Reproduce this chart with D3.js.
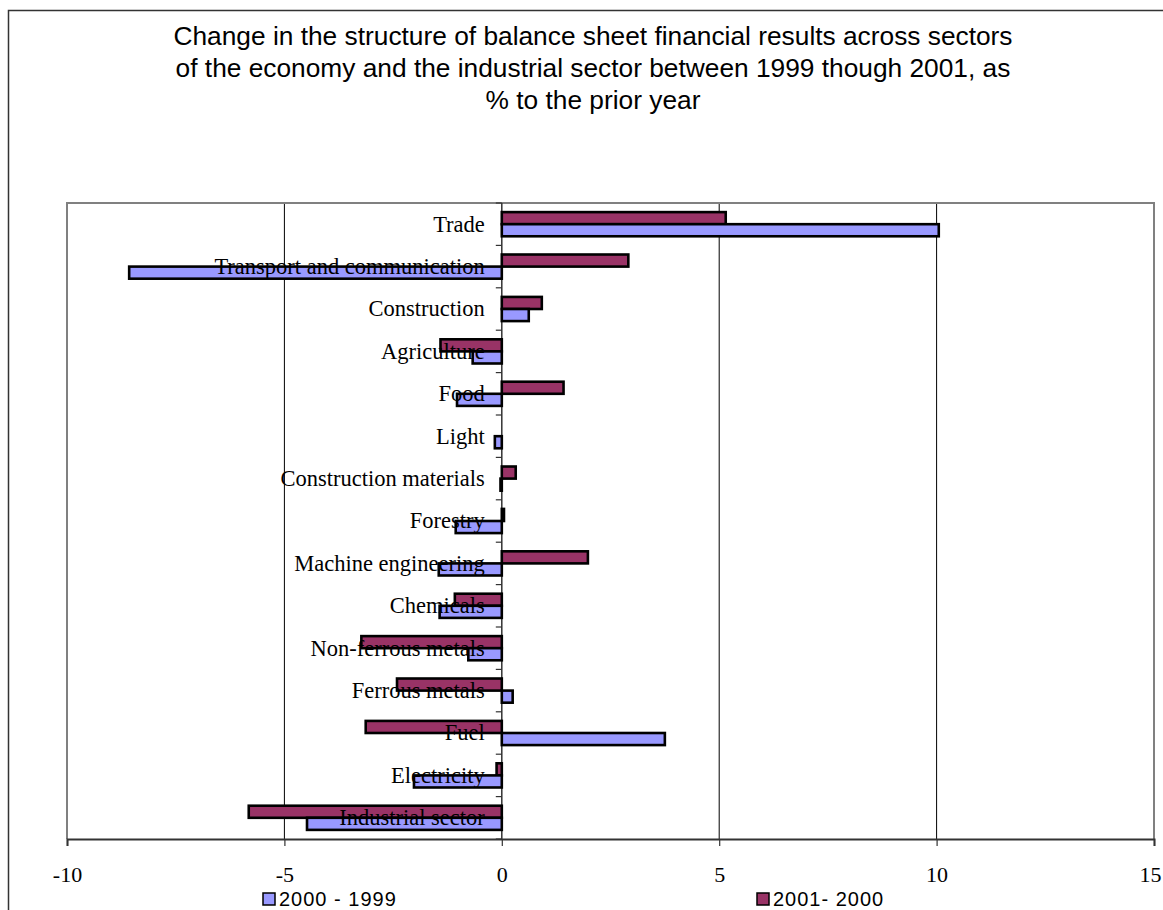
<!DOCTYPE html>
<html>
<head>
<meta charset="utf-8">
<script src="https://cdn.jsdelivr.net/npm/d3@7"></script>
<style>
  html, body { margin: 0; padding: 0; background: #fff; }
  svg { display: block; }
</style>
</head>
<body>
<svg id="chart" width="1163" height="910"></svg>
<script>
// Sectors, listed top to bottom as drawn
const categories = [
  "Trade", "Transport and communication", "Construction", "Agriculture", "Food",
  "Light", "Construction materials", "Forestry", "Machine engineering", "Chemicals",
  "Non-ferrous metals", "Ferrous metals", "Fuel", "Electricity", "Industrial sector"
];
// % change relative to the prior year
const values2000vs1999 = [10.05, -8.57, 0.62, -0.67, -1.03, -0.16, -0.03, -1.06, -1.45, -1.43, -0.77, 0.25, 3.75, -2.02, -4.48];
const values2001vs2000 = [5.15, 2.91, 0.92, -1.41, 1.42, 0.0, 0.32, 0.05, 1.98, -1.08, -3.23, -2.41, -3.13, -0.12, -5.82];
const seriesNames = ["2001- 2000", "2000 - 1999"]; // upper bar, lower bar in each group
const seriesColors = ["#993366", "#9999FF"];
const xTicks = [-10, -5, 0, 5, 10, 15];
const legendOrder = ["2000 - 1999", "2001- 2000"];
const titleLines = [
  "Change in the structure of balance sheet financial results across sectors",
  "of the economy and the industrial sector between 1999 though 2001, as",
  "% to the prior year"
];

const svg = d3.select("#chart");
const plot = { left: 67, right: 1154, top: 203, bottom: 839 };

// Outer chart frame (extends past the right and bottom edge of the page)
svg.append("rect")
  .attr("x", 8.5).attr("y", 10.5)
  .attr("width", 1300).attr("height", 1000)
  .attr("fill", "#fff").attr("stroke", "#333").attr("stroke-width", 1.5);

// Title
svg.append("g").selectAll("text").data(titleLines).join("text")
  .attr("x", 593).attr("y", (d, i) => 45 + i * 32)
  .attr("text-anchor", "middle")
  .attr("font-family", "Arial, 'Liberation Sans', sans-serif")
  .attr("font-size", 26.3)
  .attr("fill", "#000")
  .text(d => d);

const x = d3.scaleLinear().domain([-10, 15]).range([plot.left, plot.right]);
const y = d3.scaleBand().domain(categories).range([plot.top, plot.bottom])
  .paddingInner(0.43).paddingOuter(0.215);
const ySub = d3.scaleBand().domain(seriesNames).range([0, y.bandwidth()]);

// Vertical gridlines
svg.append("g").selectAll("line").data(xTicks.filter(t => t !== -10 && t !== 15 && t !== 0)).join("line")
  .attr("x1", d => x(d)).attr("x2", d => x(d))
  .attr("y1", plot.top).attr("y2", plot.bottom)
  .attr("stroke", "#000").attr("stroke-width", 1);

// Plot area border (left, top, right)
svg.append("path")
  .attr("d", `M${plot.left},${plot.bottom} V${plot.top} H${plot.right} V${plot.bottom}`)
  .attr("fill", "none").attr("stroke", "#808080").attr("stroke-width", 2);

// Category axis at zero, with ticks between categories
const step = y.step();
const boundaries = d3.range(categories.length + 1).map(i => plot.top + i * step);
svg.append("line")
  .attr("x1", x(0)).attr("x2", x(0)).attr("y1", plot.top).attr("y2", plot.bottom)
  .attr("stroke", "#333").attr("stroke-width", 1.5);
svg.append("g").selectAll("line").data(boundaries).join("line")
  .attr("x1", x(0) - 6).attr("x2", x(0))
  .attr("y1", d => d).attr("y2", d => d)
  .attr("stroke", "#333").attr("stroke-width", 1.2);

// Bars
const rows = [];
categories.forEach((c, i) => {
  rows.push({ cat: c, series: seriesNames[0], value: values2001vs2000[i], color: seriesColors[0] });
  rows.push({ cat: c, series: seriesNames[1], value: values2000vs1999[i], color: seriesColors[1] });
});
svg.append("g").selectAll("rect").data(rows).join("rect")
  .attr("x", d => Math.min(x(0), x(d.value)))
  .attr("y", d => y(d.cat) + ySub(d.series))
  .attr("width", d => Math.abs(x(d.value) - x(0)))
  .attr("height", ySub.bandwidth())
  .attr("fill", d => d.color)
  .attr("stroke", "#000").attr("stroke-width", 2.6);

// Category labels, right-aligned just left of the zero axis
svg.append("g").selectAll("text").data(categories).join("text")
  .attr("x", x(0) - 17)
  .attr("y", d => y(d) + y.bandwidth() / 2)
  .attr("dy", "0.33em")
  .attr("text-anchor", "end")
  .attr("font-family", "'Times New Roman', 'Liberation Serif', serif")
  .attr("font-size", 22.5)
  .attr("fill", "#000")
  .text(d => d);

// Value axis along the bottom
const xAxis = d3.axisBottom(x).tickValues(xTicks).tickSize(7).tickPadding(20).tickFormat(d => String(d));
const gx = svg.append("g").attr("transform", `translate(0,${plot.bottom})`).call(xAxis);
gx.select(".domain").attr("stroke", "#333").attr("stroke-width", 2);
gx.selectAll(".tick line").attr("stroke", "#333").attr("stroke-width", 1.2);
gx.selectAll(".tick text")
  .attr("font-family", "'Times New Roman', 'Liberation Serif', serif")
  .attr("font-size", 22).attr("fill", "#000");
// keep the last label inside the page edge
gx.selectAll(".tick text").filter(d => d === 15).attr("dx", -4);

// Legend
const legendX = [263, 757];
const legend = svg.append("g").selectAll("g").data(legendOrder).join("g")
  .attr("transform", (d, i) => `translate(${legendX[i]},899)`);
legend.append("rect")
  .attr("x", 0).attr("y", -6).attr("width", 12).attr("height", 12)
  .attr("fill", d => seriesColors[seriesNames.indexOf(d)])
  .attr("stroke", "#000").attr("stroke-width", 1.5);
legend.append("text")
  .attr("x", 16).attr("y", 0).attr("dy", "0.36em")
  .attr("font-family", "Arial, 'Liberation Sans', sans-serif")
  .attr("font-size", 20).attr("letter-spacing", 1)
  .attr("fill", "#000")
  .text(d => d);
</script>
</body>
</html>
